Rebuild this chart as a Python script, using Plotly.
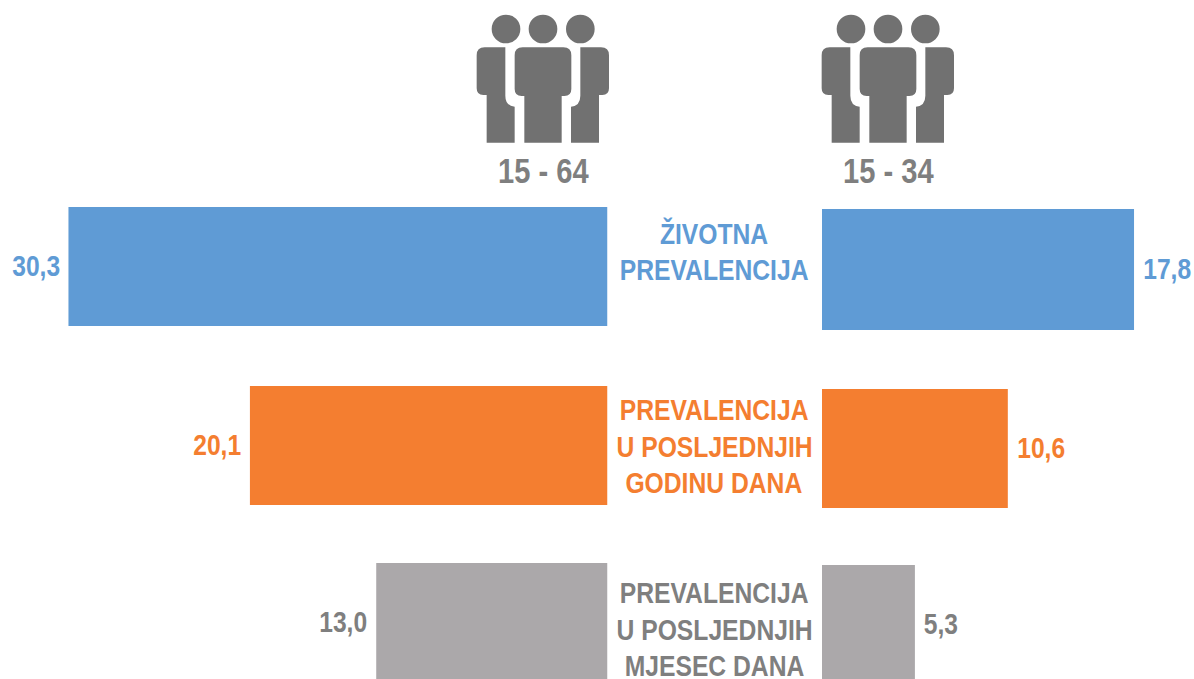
import plotly.graph_objects as go

W, H = 1194, 679
FONT = "Liberation Sans, Arial, sans-serif"

categories = ["Životna", "Godina", "Mjesec"]
values_15_64 = [30.3, 20.1, 13.0]
values_15_34 = [17.8, 10.6, 5.3]
labels_15_64 = ["30,3", "20,1", "13,0"]
labels_15_34 = ["17,8", "10,6", "5,3"]
group_titles = ["15 - 64", "15 - 34"]
row_lines = [["ŽIVOTNA", "PREVALENCIJA"],
             ["PREVALENCIJA", "U POSLJEDNJIH", "GODINU DANA"],
             ["PREVALENCIJA", "U POSLJEDNJIH", "MJESEC DANA"]]
bar_colors = ["#5F9BD5", "#F47E30", "#ABA8AA"]
text_colors = ["#5F9BD5", "#F47E30", "#7F7F7F"]
ICON = "#717171"
SQUEEZE = 0.82
rows_left = [0, 1.0056, 2]
rows_right = [0, 1.0056, 1.9944]

fig = go.Figure()
fig.add_trace(go.Bar(y=rows_left, x=values_15_64, orientation="h", width=[119 / 178] * 3,
                     marker=dict(color=bar_colors, line_width=0),
                     xaxis="x", yaxis="y", hoverinfo="skip"))
fig.add_trace(go.Bar(y=rows_right, x=values_15_34, orientation="h", width=[121 / 178, 119 / 178, 119 / 178],
                     marker=dict(color=bar_colors, line_width=0),
                     xaxis="x2", yaxis="y2", hoverinfo="skip"))


def half_width(label, size=30):
    return sum(0.278 if c == "," else 0.556 for c in label) * size * SQUEEZE / 2


ann = []
for i in range(3):
    ann.append(dict(x=values_15_64[i], y=rows_left[i], xref="x", yref="y", text=labels_15_64[i],
                    xanchor="center", xshift=-(9 + half_width(labels_15_64[i])), yshift=1, showarrow=False,
                    font=dict(family=FONT, size=30, weight=700, color=text_colors[i])))
    ann.append(dict(x=values_15_34[i], y=rows_right[i], xref="x2", yref="y2", text=labels_15_34[i],
                    xanchor="center", xshift=9 + half_width(labels_15_34[i]), yshift=1, showarrow=False,
                    font=dict(family=FONT, size=30, weight=700, color=text_colors[i])))

line_tops = [[233, 270], [409, 446, 482], [592, 629, 665]]
for i, lines in enumerate(row_lines):
    for line, py in zip(lines, line_tops[i]):
        ann.append(dict(x=714 / W, y=1 - py / H, xref="paper", yref="paper", text=line,
                        xanchor="center", yanchor="middle", showarrow=False,
                        font=dict(family=FONT, size=30.1, weight=700, color=text_colors[i])))
for title, cx in zip(group_titles, [543.3, 888]):
    ann.append(dict(x=cx / W, y=1 - 171 / H, xref="paper", yref="paper", text=title,
                    xanchor="center", yanchor="middle", showarrow=False,
                    font=dict(family=FONT, size=35.5, weight=700, color="#7F7F7F")))


def person_shapes(ox, oy):
    def P(x, y):
        return f"{(ox + x / 3) / W:.5f},{1 - (oy + y / 3) / H:.5f}"

    def path(*cmds):
        out = ""
        for c, pts in cmds:
            if c == "Q":
                out += "Q" + " ".join(P(*p) for p in pts) + " "
            else:
                for p in pts:
                    out += c + P(*p) + " "
        return out + "Z"

    shapes = []
    for cx in (108, 219, 331):
        shapes.append(dict(type="circle", xref="paper", yref="paper", line_width=0, fillcolor=ICON,
                           x0=(ox + (cx - 43) / 3) / W, x1=(ox + (cx + 43) / 3) / W,
                           y0=1 - (oy + 115 / 3) / H, y1=1 - (oy + 29 / 3) / H))
    center = path(("M", [(158, 127)]), ("L", [(280, 127)]), ("Q", [(304, 127), (304, 151)]),
                  ("L", [(304, 252)]), ("Q", [(304, 273), (283, 273)]),
                  ("L", [(275, 273), (275, 413), (163, 413), (163, 273), (155, 273)]),
                  ("Q", [(134, 273), (134, 252)]), ("L", [(134, 151)]), ("Q", [(134, 127), (158, 127)]))
    left = path(("M", [(44, 127)]), ("L", [(106, 127), (106, 272)]), ("Q", [(106, 302), (134, 305)]),
                ("L", [(134, 413), (50, 413), (50, 270), (40, 270)]), ("Q", [(20, 270), (20, 250)]),
                ("L", [(20, 151)]), ("Q", [(20, 127), (44, 127)]))
    m = 437
    right = path(("M", [(m - 44, 127)]), ("L", [(m - 106, 127), (m - 106, 272)]),
                 ("Q", [(m - 106, 302), (m - 134, 305)]),
                 ("L", [(m - 134, 413), (m - 50, 413), (m - 50, 270), (m - 40, 270)]),
                 ("Q", [(m - 20, 270), (m - 20, 250)]),
                 ("L", [(m - 20, 151)]), ("Q", [(m - 20, 127), (m - 44, 127)]))
    for d in (center, left, right):
        shapes.append(dict(type="path", path=d, xref="paper", yref="paper", line_width=0, fillcolor=ICON))
    return shapes


shapes = person_shapes(470, 5) + person_shapes(815, 5)

hidden = dict(visible=False, showgrid=False, zeroline=False, fixedrange=True)
fig.update_layout(
    width=W, height=H, autosize=False,
    margin=dict(l=0, r=0, t=0, b=0),
    paper_bgcolor="white", plot_bgcolor="white",
    showlegend=False, annotations=ann, shapes=shapes,
    xaxis=dict(hidden, domain=[0, 607.5 / W], range=[607.5 / 17.79, 0]),
    xaxis2=dict(hidden, domain=[822 / W, 1], range=[0, 372 / 17.53]),
    yaxis=dict(hidden, domain=[0, 1], anchor="x", range=[(679 - 266.5) / 178, -266.5 / 178]),
    yaxis2=dict(hidden, domain=[0, 1], anchor="x2", range=[(679 - 269.5) / 178, -269.5 / 178]),
)
post = """
document.documentElement.style.overflow='hidden';
document.body.style.margin='0';
document.querySelectorAll('.annotation text').forEach(function(t){
  var l=t.getComputedTextLength();
  t.setAttribute('textLength', l*%s);
  t.setAttribute('lengthAdjust','spacingAndGlyphs');
});
""" % SQUEEZE
fig.write_html("out.html", config=dict(displayModeBar=False), post_script=post)
